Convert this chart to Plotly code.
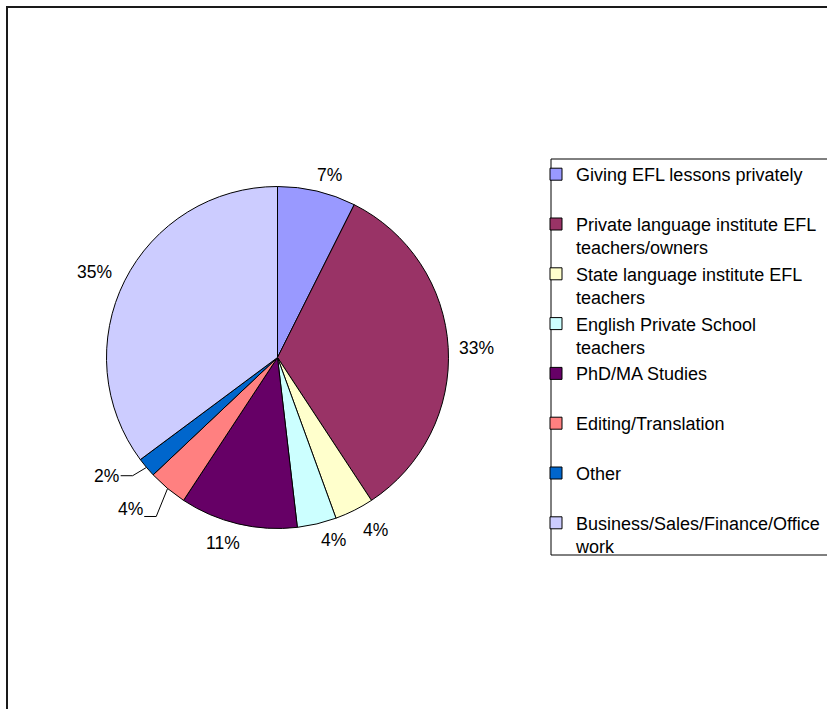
import math
import plotly.graph_objects as go

categories = [
    "Giving EFL lessons privately<br> ",
    "Private language institute EFL<br>teachers/owners",
    "State language institute EFL<br>teachers",
    "English Private School<br>teachers",
    "PhD/MA Studies<br> ",
    "Editing/Translation<br> ",
    "Other<br> ",
    "Business/Sales/Finance/Office<br>work",
]
# respondent counts (labels show the rounded shares)
counts = [4, 18, 2, 2, 6, 2, 1, 19]
colors = ["#9999FF", "#993366", "#FFFFCC", "#CCFFFF", "#660066", "#FF8080", "#0066CC", "#CCCCFF"]

W, H = 827, 709
FONT = "Liberation Sans, Arial, sans-serif"
LABEL_SIZE = 17.5

# pie geometry (pixels)
cx, cy = 277.5, 357.5
R = 171
GAP = 14
# per-label nudges (pixels) to mimic the original label placement
label_nudge = [(6, 4), (-3, 2), (9, 1), (10, -4), (-8, -1), (0, 0), (0, 0), (-2, 1)]
# labels pulled away from the pie with a leader line: index -> (dx, dy from slice edge, line y offset)
leader = {5: (-37.5, 20.5, 7.5), 6: (-40, 8.3, 0)}

fig = go.Figure(go.Pie(
    labels=categories,
    values=counts,
    sort=False,
    direction="clockwise",
    rotation=0,
    marker=dict(colors=colors, line=dict(color="black", width=1)),
    textinfo="none",
    domain=dict(x=[(cx - R) / W, (cx + R) / W],
                y=[(H - cy - R) / H, (H - cy + R) / H]),
    hoverinfo="label+value+percent",
))


def px(x, y):
    return x / W, 1 - y / H


def text_width(s):
    w = {"%": 0.889}
    return sum(w.get(ch, 0.556) for ch in s) * LABEL_SIZE


annotations = []
shapes = [
    dict(type="rect", xref="paper", yref="paper",
         x0=7 / W, x1=1.05, y0=-0.05, y1=1 - 7 / H,
         line=dict(color="#1a1a1a", width=2), fillcolor="rgba(0,0,0,0)"),
    dict(type="rect", xref="paper", yref="paper", layer="below",
         x0=551 / W, x1=1.05, y0=1 - 555 / H, y1=1 - 159 / H,
         line=dict(color="black", width=1), fillcolor="white"),
]

total = sum(counts)
cum = 0
for i, v in enumerate(counts):
    mid = (cum + v / 2) / total * 2 * math.pi
    cum += v
    ux, uy = math.sin(mid), -math.cos(mid)
    txt = f"{round(100 * v / total)}%"
    tw, th = text_width(txt), 14
    ex, ey = cx + R * ux, cy + R * uy
    if i in leader:
        dx, dy, ldy = leader[i]
        lx, ly = ex + dx, ey + dy
        right = lx + tw / 2
        p0 = px(ex, ey)
        p1 = px(right + 13.5, ly + ldy)
        p2 = px(right + 1.5, ly + ldy)
        shapes.append(dict(type="path", xref="paper", yref="paper",
                           path=f"M{p0[0]},{p0[1]} L{p1[0]},{p1[1]} L{p2[0]},{p2[1]}",
                           line=dict(color="black", width=1)))
    else:
        nx, ny = label_nudge[i]
        lx = cx + (R + GAP) * ux + tw / 2 * ux + nx
        ly = cy + (R + GAP) * uy + th / 2 * uy + ny
    ax, ay = px(lx, ly)
    annotations.append(dict(x=ax, y=ay, xref="paper", yref="paper", text=txt,
                            showarrow=False, xanchor="center", yanchor="middle",
                            font=dict(family=FONT, size=LABEL_SIZE, color="black")))

fig.update_layout(
    width=W, height=H,
    margin=dict(l=0, r=0, t=0, b=0, autoexpand=False),
    paper_bgcolor="white",
    plot_bgcolor="white",
    showlegend=True,
    legend=dict(
        x=536 / W, xanchor="left",
        y=1 - 156 / H, yanchor="top",
        bgcolor="rgba(0,0,0,0)", borderwidth=0,
        font=dict(family=FONT, size=18, color="black"),
        valign="top",
        traceorder="normal",
    ),
    annotations=annotations,
    shapes=shapes,
)

fig.write_html("out.html")
